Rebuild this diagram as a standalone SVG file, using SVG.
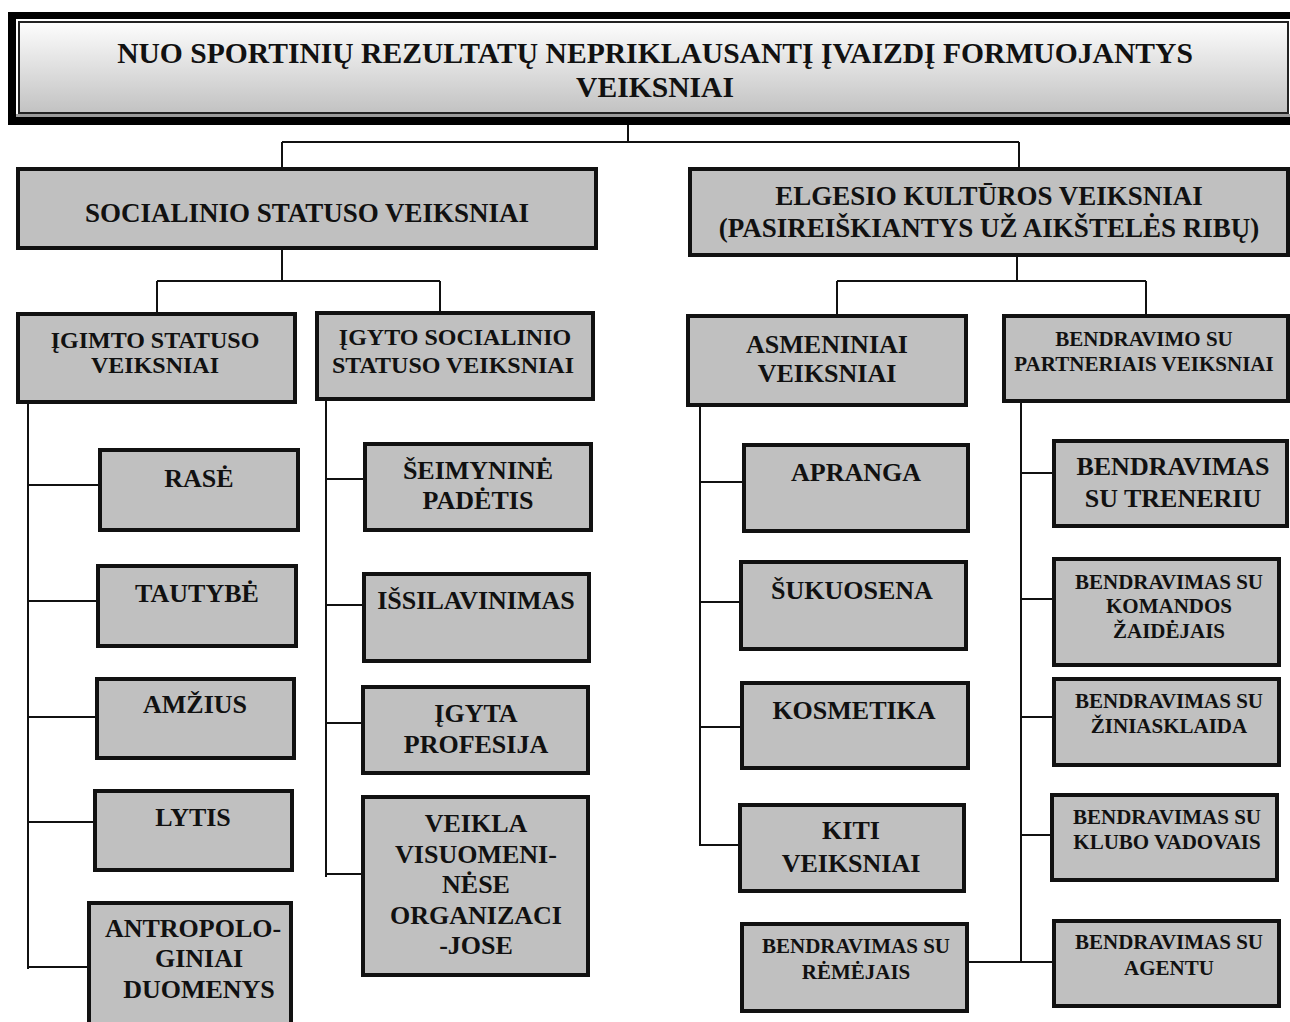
<svg xmlns="http://www.w3.org/2000/svg" width="1290" height="1022" viewBox="0 0 1290 1022" font-family="'Liberation Serif', 'Times New Roman', serif">
  <defs>
    <linearGradient id="titleFill" x1="0" y1="0" x2="0" y2="1">
      <stop offset="0" stop-color="#fdfdfd"/>
      <stop offset="1" stop-color="#c2c2c2"/>
    </linearGradient>
  </defs>
  <style>
    .box { fill: #c0c0c0; stroke: #111; stroke-width: 4; }
    .link { fill: none; stroke: #111; stroke-width: 2; }
    .lbl { font-family: 'Liberation Serif', 'Times New Roman', serif; font-weight: bold; fill: #111; text-anchor: middle; }
    .t29 { font-size: 29.6px; }
    .t27 { font-size: 27px; }
    .t26 { font-size: 26px; }
    .t24 { font-size: 24px; }
    .t21 { font-size: 21px; }
  </style>
  <rect width="1290" height="1022" fill="#fff"/>

  <!-- connectors -->
  <g id="connectors" class="link">
    <path d="M628 125 V142 M282 142 H1019 M282 142 V167 M1019 142 V167"/>
    <path d="M282 250 V281 M157 281 H440 M157 281 V312 M440 281 V311"/>
    <path d="M1017 257 V281 M837 281 H1146 M837 281 V314 M1146 281 V314"/>
    <path d="M28 404 V969 M28 485 H98 M28 601 H96 M28 717 H95 M28 822 H93 M28 967 H87"/>
    <path d="M326 401 V877 M326 479 H363 M326 605 H362 M326 723 H361 M326 874 H361"/>
    <path d="M700 407 V846 M700 482 H742 M700 602 H739 M700 727 H740 M700 845 H738"/>
    <path d="M1021 403 V962 M1021 473 H1052 M1021 599 H1052 M1021 717 H1052 M1021 835 H1050 M969 962 H1057"/>
  </g>

  <!-- root -->
  <g id="root">
    <rect x="8" y="12" width="1290" height="113" fill="#000"/>
    <rect x="16" y="19" width="1280" height="98" fill="#fff"/>
    <rect x="16" y="114" width="1274" height="3" fill="#9a9a9a"/>
    <rect x="19" y="22" width="1269" height="91" fill="url(#titleFill)" stroke="#222" stroke-width="2"/>
    <text class="lbl t29" x="655" y="63">NUO SPORTINIŲ REZULTATŲ NEPRIKLAUSANTĮ ĮVAIZDĮ FORMUOJANTYS</text>
    <text class="lbl t29" x="655" y="97">VEIKSNIAI</text>
  </g>

  <!-- second level -->
  <g id="socialinio">
    <rect class="box" x="18" y="169" width="578" height="79"/>
    <text class="lbl t27" x="307" y="222">SOCIALINIO STATUSO VEIKSNIAI</text>
  </g>
  <g id="elgesio">
    <rect class="box" x="690" y="169" width="598" height="86"/>
    <text class="lbl t27" x="989" y="205">ELGESIO KULTŪROS VEIKSNIAI</text>
    <text class="lbl t27" x="989" y="237">(PASIREIŠKIANTYS UŽ AIKŠTELĖS RIBŲ)</text>
  </g>

  <!-- third level -->
  <g id="igimto">
    <rect class="box" x="18" y="314" width="277" height="88"/>
    <text class="lbl t24" x="155" y="348">ĮGIMTO STATUSO</text>
    <text class="lbl t24" x="155" y="373">VEIKSNIAI</text>
  </g>
  <g id="igyto">
    <rect class="box" x="317" y="313" width="276" height="86"/>
    <text class="lbl t24" x="455" y="345">ĮGYTO SOCIALINIO</text>
    <text class="lbl t24" x="453" y="373">STATUSO VEIKSNIAI</text>
  </g>
  <g id="asmeniniai">
    <rect class="box" x="688" y="316" width="278" height="89"/>
    <text class="lbl t26" x="827" y="353">ASMENINIAI</text>
    <text class="lbl t26" x="827" y="382">VEIKSNIAI</text>
  </g>
  <g id="partneriai">
    <rect class="box" x="1004" y="316" width="284" height="85"/>
    <text class="lbl t21" x="1144" y="346">BENDRAVIMO SU</text>
    <text class="lbl t21" x="1144" y="371">PARTNERIAIS VEIKSNIAI</text>
  </g>

  <!-- innate status -->
  <g id="rase">
    <rect class="box" x="100" y="450" width="198" height="80"/>
    <text class="lbl t26" x="199" y="487">RASĖ</text>
  </g>
  <g id="tautybe">
    <rect class="box" x="98" y="566" width="198" height="80"/>
    <text class="lbl t26" x="197" y="602">TAUTYBĖ</text>
  </g>
  <g id="amzius">
    <rect class="box" x="97" y="679" width="197" height="79"/>
    <text class="lbl t26" x="195" y="713">AMŽIUS</text>
  </g>
  <g id="lytis">
    <rect class="box" x="95" y="791" width="197" height="79"/>
    <text class="lbl t26" x="193" y="826">LYTIS</text>
  </g>
  <g id="antropologiniai">
    <rect class="box" x="89" y="903" width="202" height="130"/>
    <text class="lbl t26" x="193" y="937">ANTROPOLO-</text>
    <text class="lbl t26" x="199" y="967">GINIAI</text>
    <text class="lbl t26" x="199" y="998">DUOMENYS</text>
  </g>

  <!-- acquired status -->
  <g id="seimynine">
    <rect class="box" x="365" y="444" width="226" height="86"/>
    <text class="lbl t26" x="478" y="479">ŠEIMYNINĖ</text>
    <text class="lbl t26" x="478" y="509">PADĖTIS</text>
  </g>
  <g id="issilavinimas">
    <rect class="box" x="364" y="574" width="225" height="87"/>
    <text class="lbl t26" x="476" y="609">IŠSILAVINIMAS</text>
  </g>
  <g id="profesija">
    <rect class="box" x="363" y="687" width="225" height="86"/>
    <text class="lbl t26" x="476" y="722">ĮGYTA</text>
    <text class="lbl t26" x="476" y="753">PROFESIJA</text>
  </g>
  <g id="veikla">
    <rect class="box" x="363" y="797" width="225" height="178"/>
    <text class="lbl t26" x="476" y="832">VEIKLA</text>
    <text class="lbl t26" x="476" y="863">VISUOMENI-</text>
    <text class="lbl t26" x="476" y="893">NĖSE</text>
    <text class="lbl t26" x="476" y="924">ORGANIZACI</text>
    <text class="lbl t26" x="476" y="954">-JOSE</text>
  </g>

  <!-- personal factors -->
  <g id="apranga">
    <rect class="box" x="744" y="445" width="224" height="86"/>
    <text class="lbl t26" x="856" y="481">APRANGA</text>
  </g>
  <g id="sukuosena">
    <rect class="box" x="741" y="562" width="225" height="87"/>
    <text class="lbl t26" x="852" y="599">ŠUKUOSENA</text>
  </g>
  <g id="kosmetika">
    <rect class="box" x="742" y="683" width="226" height="85"/>
    <text class="lbl t26" x="854" y="719">KOSMETIKA</text>
  </g>
  <g id="kiti">
    <rect class="box" x="740" y="805" width="224" height="86"/>
    <text class="lbl t26" x="851" y="839">KITI</text>
    <text class="lbl t26" x="851" y="872">VEIKSNIAI</text>
  </g>
  <g id="remejai">
    <rect class="box" x="742" y="924" width="225" height="87"/>
    <text class="lbl t21" x="856" y="953">BENDRAVIMAS SU</text>
    <text class="lbl t21" x="856" y="979">RĖMĖJAIS</text>
  </g>

  <!-- partner communication -->
  <g id="treneris">
    <rect class="box" x="1054" y="441" width="233" height="85"/>
    <text class="lbl t26" x="1173" y="475">BENDRAVIMAS</text>
    <text class="lbl t26" x="1173" y="507">SU TRENERIU</text>
  </g>
  <g id="zaidejai">
    <rect class="box" x="1054" y="559" width="225" height="106"/>
    <text class="lbl t21" x="1169" y="589">BENDRAVIMAS SU</text>
    <text class="lbl t21" x="1169" y="613">KOMANDOS</text>
    <text class="lbl t21" x="1169" y="638">ŽAIDĖJAIS</text>
  </g>
  <g id="ziniasklaida">
    <rect class="box" x="1054" y="679" width="225" height="86"/>
    <text class="lbl t21" x="1169" y="708">BENDRAVIMAS SU</text>
    <text class="lbl t21" x="1169" y="733">ŽINIASKLAIDA</text>
  </g>
  <g id="vadovai">
    <rect class="box" x="1052" y="795" width="225" height="85"/>
    <text class="lbl t21" x="1167" y="824">BENDRAVIMAS SU</text>
    <text class="lbl t21" x="1167" y="849">KLUBO VADOVAIS</text>
  </g>
  <g id="agentas">
    <rect class="box" x="1054" y="921" width="225" height="85"/>
    <text class="lbl t21" x="1169" y="949">BENDRAVIMAS SU</text>
    <text class="lbl t21" x="1169" y="975">AGENTU</text>
  </g>
</svg>
